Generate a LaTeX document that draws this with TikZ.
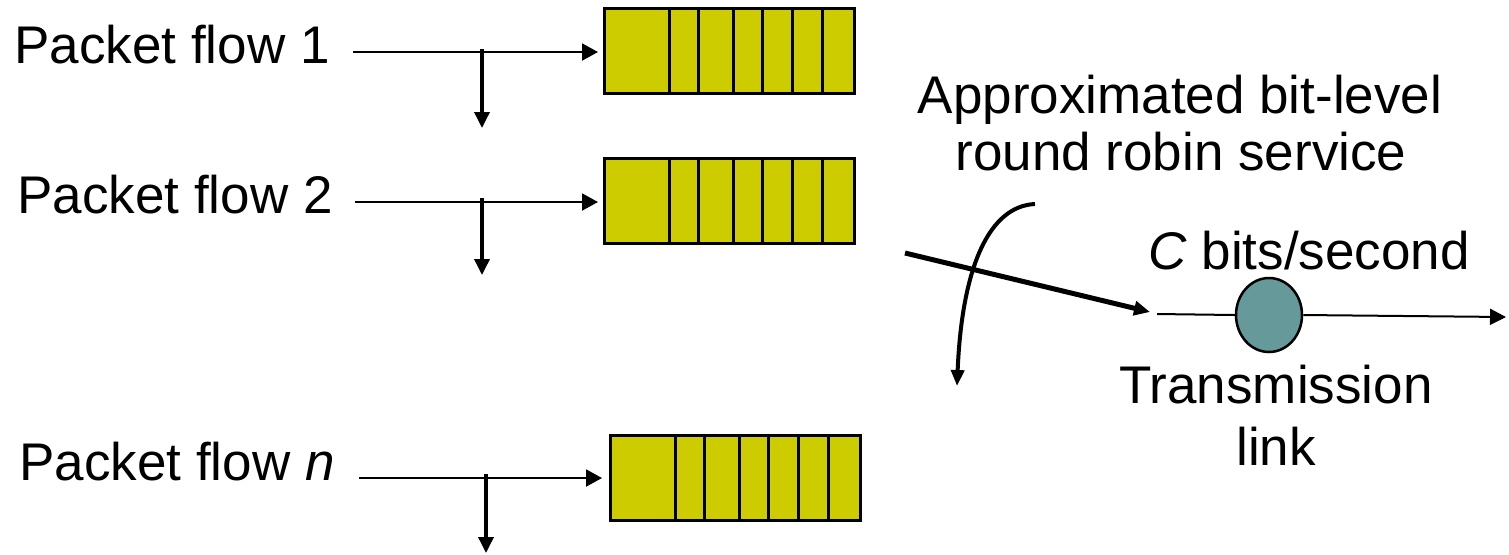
\documentclass[tikz,border=0pt]{standalone}
\usepackage{fontspec}
\setmainfont{Liberation Sans}
\usetikzlibrary{arrows.meta,calc,shapes.geometric}
\definecolor{qyellow}{HTML}{CCCC00}
\definecolor{srvteal}{HTML}{669999}
\begin{document}
\begin{tikzpicture}[x=0.5pt,y=-0.5pt,
  lbl/.style={font=\fontsize{26.5}{31}\selectfont, inner sep=0pt},
  queue/.style={draw, line width=1.5pt, fill=qyellow, minimum width=125pt, minimum height=42.5pt, inner sep=0pt, outer sep=0pt, anchor=north west},
  cell/.style={line width=1.5pt},
  inarrow/.style={line width=1pt, -{Triangle[length=8pt,width=8.5pt]}},
  droparrow/.style={line width=1.75pt, -{Triangle[length=8pt,width=7.5pt]}},
  rrarrow/.style={line width=2.5pt, -{Triangle[length=8pt,width=7pt]}},
  rrcurve/.style={line width=2pt, -{Triangle[length=8pt,width=6.5pt]}},
  linkline/.style={line width=1pt},
  linkarrow/.style={line width=1pt, -{Triangle[length=8pt,width=8pt]}}]
\useasboundingbox (0,0) rectangle (1509,554);

% queues
\node[queue] (q1) at (604,8) {};
\node[queue] (q2) at (604,158) {};
\node[queue, minimum width=125pt] (qn) at (610,435) {};
\foreach \q in {q1,q2,qn}{
  \foreach \f in {0.26,0.378,0.517,0.632,0.755,0.875}{
    \draw[cell] ($(\q.north west)!\f!(\q.north east)$) -- ($(\q.south west)!\f!(\q.south east)$);
  }
}

% labels
\node[lbl, anchor=base west] (l1) at (14,63) {Packet flow 1};
\node[lbl, anchor=base west] (l2) at (17,213) {Packet flow 2};
\node[lbl, anchor=base west] (ln) at (19,480) {Packet flow \textit{n}};
\node[lbl, anchor=base] (rr1) at (1180,113) {Approximated bit-level};
\node[lbl, anchor=base] (rr2) at (1181,170) {round robin service};
\node[lbl, anchor=base] (cap) at (1309,269) {\textit{C} bits/second};
\node[lbl, anchor=base] (tl1) at (1276,403) {Transmission};
\node[lbl, anchor=base] (tl2) at (1276,465) {link};

% flow arrows
\coordinate (s1) at (353,52);  \coordinate (d1) at (482,49);  \coordinate (e1) at (482,128);
\coordinate (s2) at (355,202); \coordinate (d2) at (482,198); \coordinate (e2) at (482,275);
\coordinate (sn) at (359,478); \coordinate (dn) at (486,474); \coordinate (en) at (486,553);
\draw[inarrow, shorten >=3pt] (s1) -- (s1 -| q1.west);
\draw[inarrow, shorten >=3pt] (s2) -- (s2 -| q2.west);
\draw[inarrow, shorten >=4pt] (sn) -- (sn -| qn.west);
\draw[droparrow] (d1) -- (e1);
\draw[droparrow] (d2) -- (e2);
\draw[droparrow] (dn) -- (en);

% server and link
\node[draw, ellipse, line width=1.25pt, fill=srvteal, minimum width=33pt, minimum height=37pt, inner sep=0pt] (srv) at (1269,315) {};
\coordinate (lin) at (1157,314);
\coordinate (lout) at (1506,317);
\draw[linkline] (lin) -- (srv.west);
\draw[linkarrow] (srv.east) -- (lout);

% round robin arrows
\coordinate (rs) at (905,253);
\coordinate (re) at (1150,312);
\draw[rrarrow] (rs) -- (re);
\coordinate (c0) at (1035,204);
\coordinate (c1) at (957,386);
\draw[rrcurve] (c0) .. controls (990,206) and (962,265) .. (c1);
\end{tikzpicture}
\end{document}
